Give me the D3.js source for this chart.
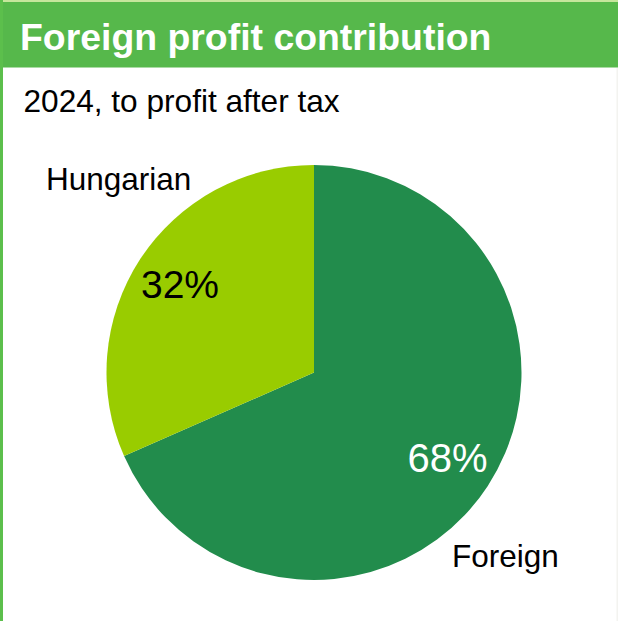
<!DOCTYPE html>
<html>
<head>
<meta charset="utf-8">
<script src="https://cdn.jsdelivr.net/npm/d3@7"></script>
<style>
  body { margin: 0; background: #fff; }
  svg { display: block; font-family: "Liberation Sans", Arial, sans-serif; }
</style>
</head>
<body>
<div id="chart"></div>
<script>
// data
var categories = ["Foreign", "Hungarian"];
var shares = [68.4, 31.6];
var sliceColors = ["#228c4c", "#99cc00"];

var width = 618, height = 621;

var svg = d3.select("#chart").append("svg")
    .attr("width", width)
    .attr("height", height);

// frame: header band + left border
svg.append("rect").attr("x", 0).attr("y", 0).attr("width", width).attr("height", 3).attr("fill", "#c6e69c");
svg.append("rect").attr("x", 0).attr("y", 2).attr("width", width).attr("height", 65.5).attr("fill", "#56b84b");
svg.append("rect").attr("x", 0).attr("y", 0).attr("width", 3).attr("height", height).attr("fill", "#5cbf4c");
svg.append("rect").attr("x", 616.5).attr("y", 68).attr("width", 1.5).attr("height", height - 68).attr("fill", "#f3f3f0");

svg.append("text")
    .attr("x", 20).attr("y", 49.5)
    .attr("fill", "#fff")
    .attr("font-weight", "bold")
    .attr("font-size", 37.4)
    .text("Foreign profit contribution");

svg.append("text")
    .attr("x", 23.5).attr("y", 111.5)
    .attr("fill", "#000")
    .attr("font-size", 31.6)
    .text("2024, to profit after tax");

// pie
var cx = 314, cy = 372.5, radius = 207.5;

var pieData = categories.map(function(c, i) { return {name: c, value: shares[i], color: sliceColors[i]}; });

var pie = d3.pie()
    .sort(null)
    .value(function(d) { return d.value; });

var arc = d3.arc().innerRadius(0).outerRadius(radius);

var g = svg.append("g").attr("transform", "translate(" + cx + "," + cy + ")");

var arcs = pie(pieData);

g.selectAll("path")
    .data(arcs)
    .enter().append("path")
    .attr("d", arc)
    .attr("fill", function(d) { return d.data.color; });

// percentage labels inside slices
g.selectAll(".pct")
    .data(arcs)
    .enter().append("text")
    .attr("class", "pct")
    .attr("text-anchor", "middle")
    .attr("font-size", function(d) { return d.data.name == "Foreign" ? 40 : 39; })
    .attr("fill", function(d) { return d.data.name == "Foreign" ? "#fff" : "#000"; })
    .attr("x", function(d) { return d.data.name == "Foreign" ? 133.5 : -134; })
    .attr("y", function(d) { return d.data.name == "Foreign" ? 99.5 : -74.5; })
    .text(function(d) { return d3.format(".0f")(d.data.value) + "%"; });

// category labels outside
g.selectAll(".cat")
    .data(arcs)
    .enter().append("text")
    .attr("class", "cat")
    .attr("font-size", 31.5)
    .attr("fill", "#000")
    .attr("x", function(d) { return d.data.name == "Foreign" ? 138 : -268; })
    .attr("y", function(d) { return d.data.name == "Foreign" ? 194.5 : -182.5; })
    .text(function(d) { return d.data.name; });
</script>
</body>
</html>
